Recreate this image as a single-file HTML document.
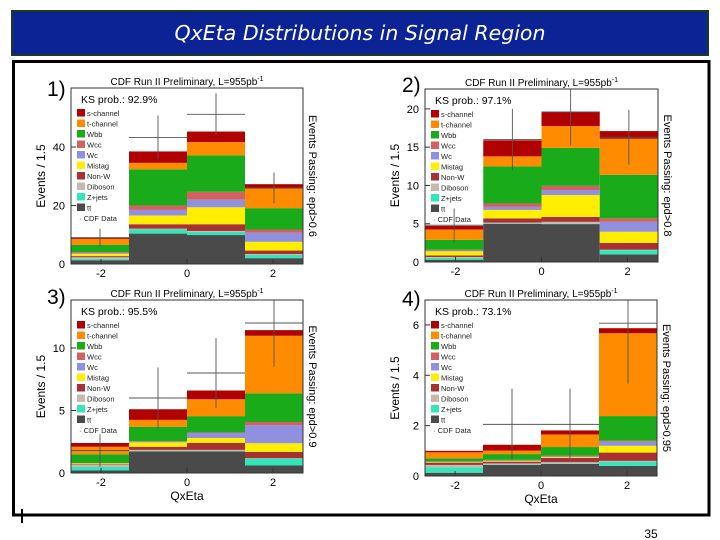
<!DOCTYPE html>
<html><head><meta charset="utf-8"><style>
html,body{margin:0;padding:0;background:#fff;}
svg{display:block;font-family:"Liberation Sans",sans-serif;}
</style></head><body>
<svg id="slide" width="720" height="540" viewBox="0 0 720 540" xmlns="http://www.w3.org/2000/svg">
<rect x="0" y="0" width="720" height="540" fill="#fff"/>
<rect x="12" y="11" width="696" height="44" fill="#0b2394" stroke="#1c3a20" stroke-width="2"/>
<text x="360" y="40" text-anchor="middle" fill="#fff" font-family="DejaVu Sans, sans-serif" font-style="italic" font-size="20.5">QxEta Distributions in Signal Region</text>
<path d="M13.5 60 V515 H709 V60 M12 61.5 H710" fill="none" stroke="#000" stroke-width="3"/>
<line x1="22" y1="509" x2="22" y2="523" stroke="#000" stroke-width="2"/>
<text x="651" y="538" text-anchor="middle" font-size="12">35</text>
<g id="charts"></g>
</svg>
<script>
// ---- data: panel 1 (epd>0.6) ----
const p1_tt = [1.3, 10.4, 9.9, 2.0];
const p1_zjets = [0.5, 1.4, 1.1, 1.1];
const p1_diboson = [0.5, 0.3, 0.3, 0.3];
const p1_nonw = [0.4, 1.5, 2.3, 1.2];
const p1_mistag = [0.8, 3.0, 5.8, 3.0];
const p1_wc = [0.3, 1.9, 2.6, 3.1];
const p1_wcc = [0.3, 1.5, 2.7, 1.1];
const p1_wbb = [2.5, 12.4, 12.5, 7.3];
const p1_tchan = [2.0, 2.2, 4.5, 6.7];
const p1_schan = [0.5, 3.9, 3.6, 1.5];
const p1_data = [9, 43.3, 51.2, 26];
const p1_err = [3, 7.5, 7.2, 5.3];
// ---- data: panel 2 (epd>0.8) ----
const p2_tt = [0.3, 5.0, 4.95, 1.0];
const p2_zjets = [0.25, 0.05, 0.05, 0.55];
const p2_diboson = [0.1, 0.1, 0.25, 0.05];
const p2_nonw = [0.2, 0.55, 0.65, 0.9];
const p2_mistag = [0.55, 1.1, 2.85, 1.45];
const p2_wc = [0.1, 0.4, 0.65, 1.3];
const p2_wcc = [0.1, 0.45, 0.55, 0.45];
const p2_wbb = [1.3, 4.85, 4.95, 5.7];
const p2_tchan = [1.35, 1.3, 2.85, 4.7];
const p2_schan = [0.45, 2.1, 1.85, 1.0];
const p2_data = [4.8, 16, 19.6, 16.3];
const p2_err = [2.2, 4, 4.4, 3.6];
// ---- data: panel 3 (epd>0.9) ----
const p3_tt = [0.2, 1.72, 1.72, 0.6];
const p3_zjets = [0.28, 0.03, 0.03, 0.55];
const p3_diboson = [0.18, 0.1, 0.1, 0.03];
const p3_nonw = [0.05, 0.25, 0.55, 0.5];
const p3_mistag = [0.05, 0.35, 0.4, 0.7];
const p3_wc = [0.02, 0.05, 0.4, 1.45];
const p3_wcc = [0.02, 0.05, 0.05, 0.25];
const p3_wbb = [0.7, 1.15, 1.3, 2.3];
const p3_tchan = [0.6, 0.55, 1.35, 4.6];
const p3_schan = [0.3, 0.85, 0.7, 0.45];
const p3_data = [1.8, 6.0, 8.0, 12.0];
const p3_err = [1.3, 2.45, 2.8, 3.5];
// ---- data: panel 4 (epd>0.95) ----
const p4_tt = [0.13, 0.44, 0.48, 0.4];
const p4_zjets = [0.22, 0.02, 0.02, 0.17];
const p4_diboson = [0.09, 0.04, 0.05, 0.03];
const p4_nonw = [0.09, 0.07, 0.17, 0.33];
const p4_mistag = [0.02, 0.03, 0.03, 0.27];
const p4_wc = [0.01, 0.02, 0.03, 0.16];
const p4_wcc = [0.02, 0.02, 0.03, 0.04];
const p4_wbb = [0.12, 0.23, 0.34, 0.98];
const p4_tchan = [0.24, 0.14, 0.5, 3.29];
const p4_schan = [0.06, 0.23, 0.16, 0.2];
const p4_data = [0, 2.05, 2.05, 6.07];
const p4_err = [0, 1.42, 1.42, 2.4];
// ---- shared ----
const binEdges = [-2.7, -1.35, 0, 1.35, 2.7];
const xTicks = [-2, 0, 2];
const legendLabels = ["s-channel","t-channel","Wbb","Wcc","Wc","Mistag","Non-W","Diboson","Z+jets","tt"];
const ksValues = ["92.9%", "97.1%", "95.5%", "73.1%"];
const cutLabels = ["epd>0.6", "epd>0.8", "epd>0.9", "epd>0.95"];
const yTicks1 = [0, 20, 40];
const yTicks2 = [0, 5, 10, 15, 20];
const yTicks3 = [0, 5, 10];
const yTicks4 = [0, 2, 4, 6];

const colors = ["#4a4a4a","#33e6b8","#c8b8b0","#a83232","#ffee00","#9090e0","#d46060","#1aab1a","#ff8c00","#b00000"];
const legendColors = ["#b00000","#ff8c00","#1aab1a","#d46060","#9090e0","#ffee00","#a83232","#c8b8b0","#33e6b8","#4a4a4a"];

const panels = [
 {n:"1", L:71, R:303, T:88, B:264, ymax:60.2, st:[p1_tt,p1_zjets,p1_diboson,p1_nonw,p1_mistag,p1_wc,p1_wcc,p1_wbb,p1_tchan,p1_schan], d:p1_data, e:p1_err, yt:yTicks1, lx:47, ly:96, xlab:false},
 {n:"2", L:425, R:658, T:89, B:262, ymax:22.6, st:[p2_tt,p2_zjets,p2_diboson,p2_nonw,p2_mistag,p2_wc,p2_wcc,p2_wbb,p2_tchan,p2_schan], d:p2_data, e:p2_err, yt:yTicks2, lx:402, ly:92, xlab:false},
 {n:"3", L:71, R:303, T:300, B:473, ymax:13.84, st:[p3_tt,p3_zjets,p3_diboson,p3_nonw,p3_mistag,p3_wc,p3_wcc,p3_wbb,p3_tchan,p3_schan], d:p3_data, e:p3_err, yt:yTicks3, lx:47, ly:304, xlab:true},
 {n:"4", L:425, R:657, T:300, B:476, ymax:6.99, st:[p4_tt,p4_zjets,p4_diboson,p4_nonw,p4_mistag,p4_wc,p4_wcc,p4_wbb,p4_tchan,p4_schan], d:p4_data, e:p4_err, yt:yTicks4, lx:402, ly:306, xlab:true}
];
const NS = "http://www.w3.org/2000/svg";
const root = document.getElementById("charts");
function mk(tag, attrs, parent){ const el=document.createElementNS(NS,tag); for(const k in attrs) el.setAttribute(k,attrs[k]); parent.appendChild(el); return el; }

panels.forEach((p, pi) => {
  const g = mk("g", {}, root);
  
  
  const xs = v => p.L + (v - binEdges[0]) / (binEdges[4] - binEdges[0]) * (p.R - p.L);
  const ys = v => p.B - v / p.ymax * (p.B - p.T);
  const clip = mk("clipPath", {id:"clip"+p.n}, g);
  mk("rect", {x:p.L, y:p.T, width:p.R-p.L, height:p.B-p.T}, clip);
  const plot = mk("g", {"clip-path":"url(#clip"+p.n+")"}, g);
  for (let b = 0; b < 4; b++) {
    let cum = 0;
    p.st.forEach((arr, si) => {
      const v = arr[b];
      const r = mk("rect", {x:xs(binEdges[b]), y:ys(cum+v), width:xs(binEdges[b+1])-xs(binEdges[b]), height:ys(cum)-ys(cum+v), fill:colors[si]}, plot);
      
      
      cum += v;
    });
  }
  for (let b = 0; b < 4; b++) {
    const cx = (xs(binEdges[b]) + xs(binEdges[b+1])) / 2;
    const dg = mk("g", {stroke:"#555", "stroke-width":"0.9"}, plot);
    
    
    mk("line", {x1:xs(binEdges[b]), x2:xs(binEdges[b+1]), y1:ys(p.d[b]), y2:ys(p.d[b])}, dg);
    mk("line", {x1:cx, x2:cx, y1:ys(p.d[b]-p.e[b]), y2:ys(p.d[b]+p.e[b])}, dg);
  }
  const fr = mk("rect", {x:p.L, y:p.T, width:p.R-p.L, height:p.B-p.T, fill:"none", stroke:"#333", "stroke-width":"1"}, g);
  
  
  p.yt.forEach(t => {
    mk("line", {x1:p.L, x2:p.L+5, y1:ys(t), y2:ys(t), stroke:"#333"}, g);
    const tx = mk("text", {x:p.L-6, y:ys(t)+4, "text-anchor":"end", "font-size":"11"}, g);
    tx.textContent = t;
    
    
  });
  xTicks.forEach(t => {
    const xx = (p.L + p.R)/2 + t * 43;
    mk("line", {x1:xx, x2:xx, y1:p.B, y2:p.B-5, stroke:"#333"}, g);
    const tx = mk("text", {x:xx, y:p.B+13, "text-anchor":"middle", "font-size":"11"}, g);
    tx.textContent = t;
    
    
  });
  if (p.xlab) {
    const xl = mk("text", {x:(p.L+p.R)/2, y:p.B+27, "text-anchor":"middle", "font-size":"12"}, g);
    xl.textContent = "QxEta";
    
    
  }
  const yc = (p.T + p.B) / 2;
  const yl = mk("text", {x:0, y:0, "text-anchor":"middle", "font-size":"12", transform:"translate("+(p.L-26)+","+yc+") rotate(-90)"}, g);
  yl.textContent = "Events / 1.5";
  
  
  const rl = mk("text", {x:0, y:0, "text-anchor":"middle", "font-size":"11", transform:"translate("+(p.R+6)+","+yc+") rotate(90)"}, g);
  rl.textContent = "Events Passing: " + cutLabels[pi];
  
  
  const ht = mk("text", {x:(p.L+p.R)/2, y:p.T-3, "text-anchor":"middle", "font-size":"10"}, g);
  ht.innerHTML = 'CDF Run II Preliminary, L=955pb<tspan dy="-4" font-size="7">-1</tspan>';
  
  
  const nl = mk("text", {x:p.lx, y:p.ly, "font-size":"21"}, g);
  nl.textContent = p.n + ")";
  
  
  const lg = mk("g", {}, g);
  
  
  const ks = mk("text", {x:p.L+10, y:p.T+15, "font-size":"10.5"}, lg);
  ks.textContent = "KS prob.: " + ksValues[pi];
  
  
  legendLabels.forEach((lab, i) => {
    const y0 = p.T + 21 + i * 10.5;
    const e = mk("g", {}, lg);
    
    
    mk("rect", {x:p.L+6, y:y0, width:8, height:7.5, fill:legendColors[i]}, e);
    const t = mk("text", {x:p.L+16, y:y0+7, "font-size":"7.5", fill:"#222"}, e);
    t.textContent = lab;
  });
  const cd = mk("text", {x:p.L+8, y:p.T+21+10*10.5+7, "font-size":"7.5", fill:"#222"}, lg);
  cd.textContent = "· CDF Data";
  
  
});
</script>
</body></html>
